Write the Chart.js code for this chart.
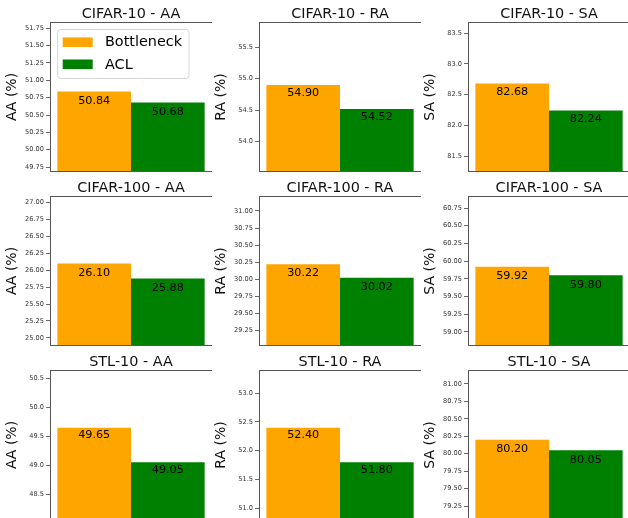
<!DOCTYPE html>
<html>
<head>
<meta charset="utf-8">
<script src="https://cdn.jsdelivr.net/npm/chart.js@4.4.1/dist/chart.umd.min.js"></script>
<style>
  html, body { margin: 0; padding: 0; background: #ffffff; }
  body { width: 628px; height: 518px; position: relative; overflow: hidden; }
  .cell { position: absolute; width: 212px; height: 172px; }
  .cell canvas { display: block; }
</style>
</head>
<body>
<script>
// ---- Data ----
const datasetNames = ['CIFAR-10', 'CIFAR-100', 'STL-10'];
const metricNames = ['AA', 'RA', 'SA'];
const seriesNames = ['Bottleneck', 'ACL'];
// rows: datasets, columns: metrics
const bottleneckValues = [
  [50.84, 54.90, 82.68],
  [26.10, 30.22, 59.92],
  [49.65, 52.40, 80.20]
];
const aclValues = [
  [50.68, 54.52, 82.24],
  [25.88, 30.02, 59.80],
  [49.05, 51.80, 80.05]
];
const tickSteps = [
  [0.25, 0.5, 0.5],
  [0.25, 0.25, 0.25],
  [0.5, 0.5, 0.25]
];

// ---- Styling ----
const FONT = 'DejaVu Sans';
const seriesColors = ['#FFA500', '#008000'];
const COL_LEFT = [0, 209, 418];
const ROW_TOP = [0, 174, 348];

function makePanel(r, c) {
  const cell = document.createElement('div');
  cell.className = 'cell';
  cell.style.left = COL_LEFT[c] + 'px';
  cell.style.top = ROW_TOP[r] + 'px';
  const canvas = document.createElement('canvas');
  canvas.width = 212; canvas.height = 172;
  canvas.style.width = '212px'; canvas.style.height = '172px';
  cell.appendChild(canvas);
  document.body.appendChild(cell);

  const vals = [bottleneckValues[r][c], aclValues[r][c]];
  const lo = Math.min(...vals) - 1;
  const hi = Math.max(...vals) + 1;
  const step = tickSteps[r][c];
  const dec = step < 0.5 ? 2 : 1;
  const showLegend = (r === 0 && c === 0);

  const deco = {
    id: 'deco' + r + c,
    afterDatasetsDraw(chart) {
      const ctx = chart.ctx;
      const ca = chart.chartArea;
      const y = chart.scales.y;
      ctx.save();
      // value labels
      ctx.font = '11.2px "' + FONT + '"';
      ctx.fillStyle = '#000';
      ctx.textAlign = 'center';
      ctx.textBaseline = 'alphabetic';
      chart.data.datasets.forEach((ds, i) => {
        const meta = chart.getDatasetMeta(i);
        meta.data.forEach((bar, j) => {
          const v = ds.data[j];
          ctx.fillText(v.toFixed(2), bar.x, y.getPixelForValue(v - 0.18));
        });
      });
      // frame
      ctx.strokeStyle = '#555';
      ctx.lineWidth = 1;
      ctx.strokeRect(Math.round(ca.left) + 0.5, Math.round(ca.top) + 0.5,
                     Math.round(ca.right - ca.left), Math.round(ca.bottom - ca.top) - 1);
      // title
      ctx.font = '14.4px "' + FONT + '"';
      ctx.fillStyle = '#111';
      ctx.textAlign = 'center';
      ctx.textBaseline = 'alphabetic';
      ctx.fillText(datasetNames[r] + ' - ' + metricNames[c], (ca.left + ca.right) / 2, ca.top - 4);
      // legend
      if (showLegend) {
        const bx = ca.left + 7.7, by = ca.top + 7.5, bw = 131.3, bh = 49, rad = 3;
        ctx.beginPath();
        ctx.moveTo(bx + rad, by);
        ctx.arcTo(bx + bw, by, bx + bw, by + bh, rad);
        ctx.arcTo(bx + bw, by + bh, bx, by + bh, rad);
        ctx.arcTo(bx, by + bh, bx, by, rad);
        ctx.arcTo(bx, by, bx + bw, by, rad);
        ctx.closePath();
        ctx.fillStyle = 'rgba(255,255,255,0.8)';
        ctx.fill();
        ctx.strokeStyle = '#d6d6d6';
        ctx.lineWidth = 1;
        ctx.stroke();
        const centers = [ca.top + 20.2, ca.top + 42.3];
        chart.data.datasets.forEach((ds, i) => {
          ctx.fillStyle = ds.backgroundColor;
          ctx.fillRect(ca.left + 12.7, centers[i] - 4.8, 30, 9.6);
          ctx.fillStyle = '#000';
          ctx.font = '14.4px "' + FONT + '"';
          ctx.textAlign = 'left';
          ctx.textBaseline = 'middle';
          ctx.fillText(ds.label, ca.left + 55, centers[i] + 0.5);
        });
      }
      ctx.restore();
    }
  };

  new Chart(canvas, {
    type: 'bar',
    data: {
      labels: [''],
      datasets: [
        { label: seriesNames[0], data: [bottleneckValues[r][c]], backgroundColor: seriesColors[0], borderWidth: 0 },
        { label: seriesNames[1], data: [aclValues[r][c]], backgroundColor: seriesColors[1], borderWidth: 0 }
      ]
    },
    options: {
      responsive: false,
      animation: false,
      devicePixelRatio: 1,
      layout: { padding: { top: 22, left: 0, right: 0, bottom: 0 } },
      plugins: { legend: { display: false }, tooltip: { enabled: false }, title: { display: false } },
      datasets: { bar: { barPercentage: 1, categoryPercentage: 2 / 2.2 } },
      scales: {
        x: { display: false, ticks: { display: false }, grid: { display: false } },
        y: {
          min: lo, max: hi,
          ticks: {
            stepSize: step, includeBounds: false, autoSkip: false, padding: 2,
            font: { family: FONT, size: 6.6 }, color: '#333',
            callback: v => Number(v).toFixed(dec)
          },
          grid: { drawOnChartArea: false, drawTicks: true, tickLength: 4, tickColor: '#444', lineWidth: 0.8 },
          border: { display: false },
          title: {
            display: true, text: metricNames[c] + ' (%)',
            font: { family: FONT, size: 14 }, color: '#111',
            padding: { top: 4, bottom: 0 }
          },
          afterFit: s => { s.width = 50; s.paddingTop = 0; s.paddingBottom = 0; }
        }
      }
    },
    plugins: [deco]
  });
}

for (let r = 0; r < 3; r++) {
  for (let c = 0; c < 3; c++) makePanel(r, c);
}
</script>
</body>
</html>
